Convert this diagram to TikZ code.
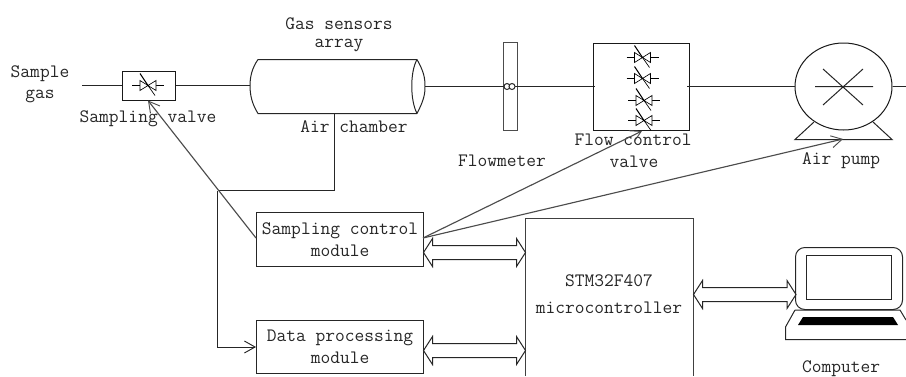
\documentclass[tikz,border=0pt]{standalone}
\usepackage{fontspec}
\usetikzlibrary{arrows.meta,shapes.geometric}
\tikzset{
  x=0.75pt,y=-0.75pt,
  line/.style={draw=black!85,line width=0.75pt},
  ctl/.style={draw=black!70,line width=0.85pt},
  open/.style={-{Straight Barb[length=8pt,width=9pt,line width=0.7pt]}},
  lbl/.style={font=\ttfamily\fontsize{14.2}{15}\selectfont,text=black!85,inner sep=0pt},
  mod/.style={draw=black!85,line width=0.75pt,minimum width=125.25pt,inner sep=0pt,align=center,
    font=\ttfamily\fontsize{14.2}{16.5}\selectfont,text=black!85},
  pics/valve/.style={code={
    \draw[line width=0.6pt] (-16,0) -- (-8,0) (8,0) -- (16,0);
    \draw[line width=0.5pt,fill=white] (-8,-5) -- (8,5) -- (8,-5) -- (-8,5) -- cycle;
    \draw[line width=0.8pt] (-8,-12) -- (0,0);
    \draw[line width=0.5pt] (0,0) -- (7,10);
  }}
}
\newcommand{\dblarrow}[3]{% x1,x2,yc
  \path[draw=black!85,line width=0.75pt,fill=white]
   (#1,#3) -- (#1+9,#3-14) -- (#1+9,#3-7) -- (#2-9,#3-7) -- (#2-9,#3-14) -- (#2,#3)
   -- (#2-9,#3+14) -- (#2-9,#3+7) -- (#1+9,#3+7) -- (#1+9,#3+14) -- cycle;
}
\begin{document}
\begin{tikzpicture}
\useasboundingbox (0,0) rectangle (906,376);
% labels
\node[lbl] (sg1) at (40,74) {Sample};
\node[lbl] (sg2) at (40,96) {gas};
\node[lbl] (gs1) at (339,24) {Gas sensors};
\node[lbl] (gs2) at (339,45) {array};
\node[lbl] (sv) at (148,119) {Sampling valve};
\node[lbl] (ac) at (354,127) {Air chamber};
\node[lbl] (fm) at (502,161) {Flowmeter};
\node[lbl] (fc1) at (633,140) {Flow control};
\node[lbl] (fc2) at (634,162) {valve};
\node[lbl] (ap) at (841,161) {Air pump};
\node[lbl] (cp) at (841,369) {Computer};
% gas path
\coordinate (in) at (82,85.5);
\node[draw=black!90,line width=0.75pt,minimum width=39.75pt,minimum height=21.75pt,inner sep=0pt] (vbox) at (148.5,85.5) {};
\pic at (148,85.5) {valve};
\coordinate (cylL) at (250,85.5);
\coordinate (cylR) at (425,86.5);
\draw[line] (in) -- (vbox.west);
\draw[line] (vbox.east) -- (cylL);
% chamber
\draw[line] (417,59.5) -- (258,59.5) .. controls (252,68) and (250,77) .. (cylL) .. controls (250,95) and (252,104) .. (258,113.5) -- (417,113.5);
\draw[line] (417,59.5) .. controls (410,72) and (410,100) .. (417,113.5);
\draw[line] (417,59.5) .. controls (424,72) and (425,78) .. (cylR) .. controls (425,94) and (424,100) .. (417,113.5);
% flowmeter
\node[draw=black!70,line width=0.75pt,minimum width=10.5pt,minimum height=66pt,inner sep=0pt] (fmb) at (510,86) {};
\coordinate (fbL) at (595,86.5);
\draw[line] (cylR) -- (fbL);
\draw[line,fill=white] (507,86.5) circle[radius=3];
\draw[line,fill=white] (512,86.5) circle[radius=3];
% flow control
\node[draw=black!90,line width=0.75pt,minimum width=72pt,minimum height=65.25pt,inner sep=0pt] (fcb) at (641.5,87) {};
\pic at (642.5,57.5) {valve};
\pic at (642.5,78.5) {valve};
\pic at (644,100.5) {valve};
\pic at (644,120.5) {valve};
% pump
\node[draw=black!90,line width=0.75pt,shape=ellipse,minimum width=72.75pt,minimum height=65.25pt,inner sep=0pt] (pump) at (843.5,86.5) {};
\coordinate (fbR) at (687,86.5);
\coordinate (out) at (906,86.5);
\draw[line] (fbR) -- (pump.west);
\draw[line] (pump.east) -- (out);
\draw[line] (815,86.5) -- (873,86.5) (823,69) -- (863,105) (863,69) -- (823,105);
\draw[line] (814,122) -- (795,139.5) -- (892,139.5) -- (873,122);
% modules
\node[mod,minimum height=40.5pt] (scm) at (340,239.5) {Sampling control\\module};
\node[mod,minimum height=39.75pt] (dpm) at (340,347) {Data processing\\module};
% MCU
\draw[draw=black!75,line width=0.75pt] (525.5,376) -- (525.5,218.5) -- (693.5,218.5) -- (693.5,376);
\node[lbl] (mc1) at (609,281) {STM32F407};
\node[lbl] (mc2) at (609,308) {microcontroller};
% junction
\coordinate (cham) at (334.5,113.5);
\coordinate (bend) at (334.5,190.5);
\coordinate (jn) at (217.5,190.5);
\draw[line] (cham) -- (bend) -- (jn);
\draw[line,open] (jn) |- (dpm.west);
\coordinate (vb) at (148,100.5);
\coordinate (sl) at (256,238);
\draw[ctl,open] (sl) -- (vb);
% control lines
\coordinate (so) at (423,238);
\coordinate (fct) at (642,131);
\coordinate (pt) at (843,139);
\draw[ctl,open] (so) -- (fct);
\draw[ctl,open] (so) -- (pt);
% double arrows
\dblarrow{423.5}{525.5}{252.5}
\dblarrow{423.5}{525.5}{350.5}
\dblarrow{693.5}{796}{294.5}
% laptop
\draw[line,rounded corners=7pt] (795.5,309.5) -- (795.5,247.5) -- (902.5,247.5) -- (902.5,309.5) -- cycle;
\draw[line] (806.5,255.5) rectangle (891.5,299.5);
\draw[line] (795,310) -- (785.5,327) -- (785.5,339.5) -- (906,339.5);
\draw[line] (795,310) -- (900,310) -- (906,320);
\fill[black] (803,317) -- (893,317) -- (898,325) -- (798,325) -- cycle;
\end{tikzpicture}
\end{document}
